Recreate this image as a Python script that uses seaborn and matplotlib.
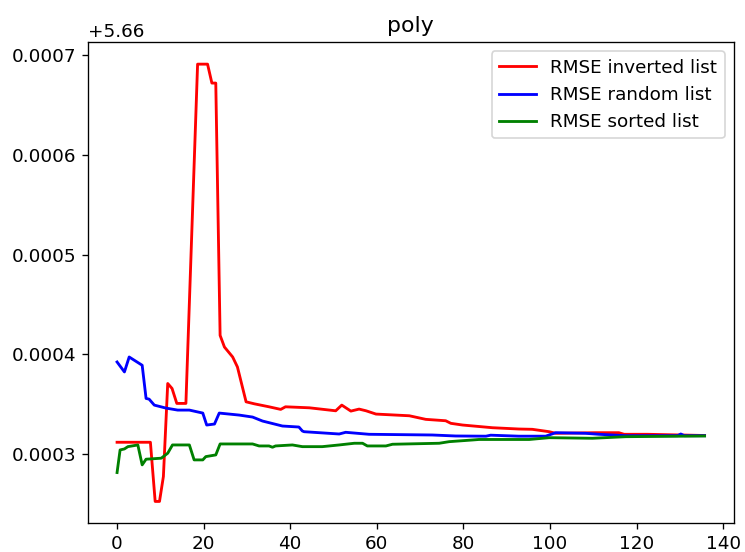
import matplotlib
matplotlib.use("Agg")
import matplotlib.pyplot as plt
import seaborn as sns

# values are offsets from BASE, in units of 1e-4
BASE = 5.66
SCALE = 1e-4

red_x = [0, 7.7, 8.8, 9.8, 10.7, 11.7, 12.7, 13.8, 15.9, 18.6, 20.9, 21.9, 22.8, 23.8,
         24.8, 26.7, 27.8, 29.8, 31.7, 35.1, 37.8, 38.9, 44.4, 50.5, 51.9, 54.0, 55.9,
         57.5, 59.8, 67.5, 71.3, 75.9, 77.1, 79.8, 86.7, 92.8, 95.9, 99.8, 101.3, 110.5,
         115.9, 117.1, 122.5, 135.7]
red_v = [3.117, 3.117, 2.523, 2.523, 2.773, 3.707, 3.657, 3.507, 3.507, 6.913, 6.913,
         6.723, 6.723, 4.19, 4.073, 3.973, 3.873, 3.523, 3.503, 3.473, 3.447, 3.473,
         3.463, 3.433, 3.49, 3.43, 3.45, 3.433, 3.40, 3.383, 3.347, 3.333, 3.307, 3.29,
         3.263, 3.25, 3.247, 3.223, 3.207, 3.213, 3.213, 3.197, 3.197, 3.185]

blue_x = [0, 1.7, 2.8, 5.8, 6.7, 7.4, 8.6, 11.3, 14.0, 16.7, 19.8, 20.7, 22.5, 23.6,
          28.2, 31.3, 33.6, 38.2, 42.0, 42.8, 43.2, 51.3, 52.8, 58.2, 72.8, 78.2, 85.2,
          86.3, 92.8, 99.0, 101.3, 108.2, 111.3, 117.5, 129.5, 130.2, 131.0, 135.7]
blue_v = [3.923, 3.823, 3.973, 3.89, 3.557, 3.55, 3.49, 3.46, 3.44, 3.44, 3.41, 3.29,
          3.30, 3.41, 3.39, 3.37, 3.33, 3.28, 3.27, 3.23, 3.223, 3.20, 3.217, 3.197,
          3.19, 3.18, 3.178, 3.188, 3.178, 3.178, 3.213, 3.207, 3.197, 3.183, 3.183,
          3.20, 3.183, 3.183]

green_x = [0, 0.7, 1.7, 2.5, 4.8, 5.8, 6.7, 7.8, 10.2, 11.7, 12.8, 16.7, 17.8, 19.8,
           20.5, 22.8, 23.8, 31.3, 32.8, 35.1, 35.9, 36.6, 40.5, 42.8, 47.4, 51.3, 54.8,
           56.7, 57.8, 62.1, 63.6, 74.4, 76.7, 82.1, 83.6, 95.2, 99.8, 109.8, 117.5, 135.7]
green_v = [2.813, 3.04, 3.05, 3.073, 3.09, 2.89, 2.947, 2.95, 2.957, 3.007, 3.09, 3.09,
           2.94, 2.94, 2.973, 2.99, 3.10, 3.10, 3.08, 3.08, 3.067, 3.08, 3.09, 3.073,
           3.073, 3.09, 3.107, 3.107, 3.08, 3.08, 3.097, 3.107, 3.123, 3.14, 3.145,
           3.145, 3.163, 3.157, 3.173, 3.18]

series = [
    ("RMSE inverted list", red_x, red_v, "red"),
    ("RMSE random list", blue_x, blue_v, "blue"),
    ("RMSE sorted list", green_x, green_v, "green"),
]

plt.rcParams["font.size"] = 11

fig = plt.figure(figsize=(745 / 120, 552 / 120), dpi=120)
ax = fig.add_axes([0.1177, 0.052, 0.8675, 0.8714])

for label, xs, vs, color in series:
    ys = [BASE + v * SCALE for v in vs]
    sns.lineplot(x=xs, y=ys, ax=ax, color=color, label=label,
                 estimator=None, sort=False, linewidth=1.7)

ax.set_title("poly")
ax.legend(loc="upper right")
fig.savefig("out.png", dpi=120)
